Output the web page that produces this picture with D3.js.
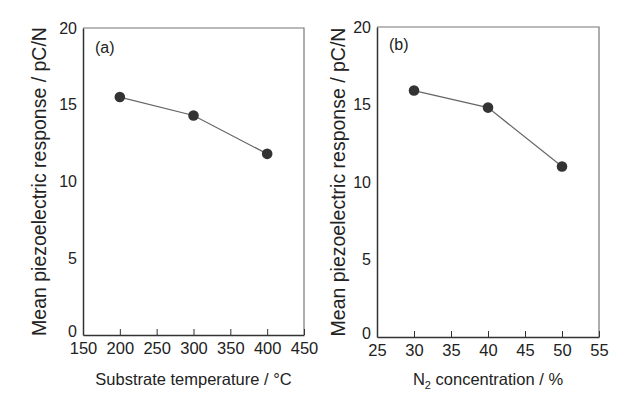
<!DOCTYPE html>
<html>
<head>
<meta charset="utf-8">
<script src="https://cdn.jsdelivr.net/npm/d3@7"></script>
<style>
  body { margin: 0; background: #fff; }
  text { font-family: "Liberation Sans", Arial, sans-serif; fill: #222; }
</style>
</head>
<body>
<div id="chart"></div>
<script>
// panel (a): substrate temperature
var tempX = [200, 300, 400];
var tempY = [15.5, 14.3, 11.8];
var tempTicks = [150, 200, 250, 300, 350, 400, 450];

// panel (b): N2 concentration
var n2X = [30, 40, 50];
var n2Y = [15.9, 14.8, 11.0];
var n2Ticks = [25, 30, 35, 40, 45, 50, 55];

var yTicks = [0, 5, 10, 15, 20];
var yTitle = "Mean piezoelectric response / pC/N";

var svg = d3.select("#chart").append("svg")
    .attr("width", 640)
    .attr("height", 397);

function panel(opt) {
  var x = d3.scaleLinear().domain(opt.xDomain).range([opt.left, opt.right]);
  var y = d3.scaleLinear().domain([0, 20]).range([opt.bottom, opt.top]);
  var g = svg.append("g");

  // frame (top + right, lighter)
  g.append("path")
      .attr("d", "M" + opt.left + "," + opt.top + "H" + opt.right + "V" + opt.bottom)
      .attr("fill", "none")
      .attr("stroke", "#777")
      .attr("stroke-width", 1.2);

  var xAxis = g.append("g")
      .attr("transform", "translate(0," + opt.bottom + ")")
      .call(d3.axisBottom(x).tickValues(opt.xTicks).tickSizeInner(-6).tickSizeOuter(0).tickPadding(5));
  xAxis.attr("font-size", null).attr("font-family", null);
  xAxis.select(".domain").attr("stroke", "#333").attr("stroke-width", 1.5);
  xAxis.selectAll(".tick line").attr("stroke", "#333");
  xAxis.selectAll(".tick text").style("font-size", "16.5px").attr("dy", "0.85em");

  var yAxis = g.append("g")
      .attr("transform", "translate(" + opt.left + ",0)")
      .call(d3.axisLeft(y).tickValues(yTicks).tickSize(0).tickPadding(6));
  yAxis.attr("font-size", null).attr("font-family", null);
  yAxis.select(".domain").attr("stroke", "#333").attr("stroke-width", 1.5);
  yAxis.selectAll(".tick text").style("font-size", "16px")
      .attr("dy", function(d) { return d === 0 ? "0.12em" : "0.32em"; });

  var line = d3.line()
      .x(function(d, i) { return x(opt.xs[i]); })
      .y(function(d) { return y(d); });

  g.append("path")
      .datum(opt.ys)
      .attr("d", line)
      .attr("fill", "none")
      .attr("stroke", "#666")
      .attr("stroke-width", 1.2);

  g.selectAll("circle")
      .data(opt.ys)
      .enter().append("circle")
      .attr("cx", function(d, i) { return x(opt.xs[i]); })
      .attr("cy", function(d) { return y(d); })
      .attr("r", 5.3)
      .attr("fill", "#333");

  g.append("text")
      .attr("x", opt.left + 12)
      .attr("y", opt.top + opt.tagDy)
      .style("font-size", "16px")
      .text(opt.tag);

  g.append("text")
      .attr("transform", "translate(" + (opt.left - opt.titleOff) + "," + ((opt.top + opt.bottom) / 2) + ") rotate(-90)")
      .attr("text-anchor", "middle")
      .attr("dy", "0.35em")
      .style("font-size", "19.5px")
      .text(yTitle);

  var xt = g.append("text")
      .attr("x", (opt.left + opt.right) / 2)
      .attr("y", 385)
      .attr("text-anchor", "middle")
      .style("font-size", "16.5px");
  opt.xTitle(xt);
}

panel({
  xDomain: [150, 450], xTicks: tempTicks, xs: tempX, ys: tempY,
  left: 83, right: 304, top: 28, bottom: 335, tag: "(a)", tagDy: 25, titleOff: 44,
  xTitle: function(t) { t.text("Substrate temperature / \u00b0C"); }
});

panel({
  xDomain: [25, 55], xTicks: n2Ticks, xs: n2X, ys: n2Y,
  left: 377, right: 599, top: 27, bottom: 337, tag: "(b)", tagDy: 23, titleOff: 39,
  xTitle: function(t) {
    t.append("tspan").text("N");
    t.append("tspan").style("font-size", "11px").attr("dy", 4).text("2");
    t.append("tspan").attr("dy", -4).text(" concentration / %");
  }
});
</script>
</body>
</html>
